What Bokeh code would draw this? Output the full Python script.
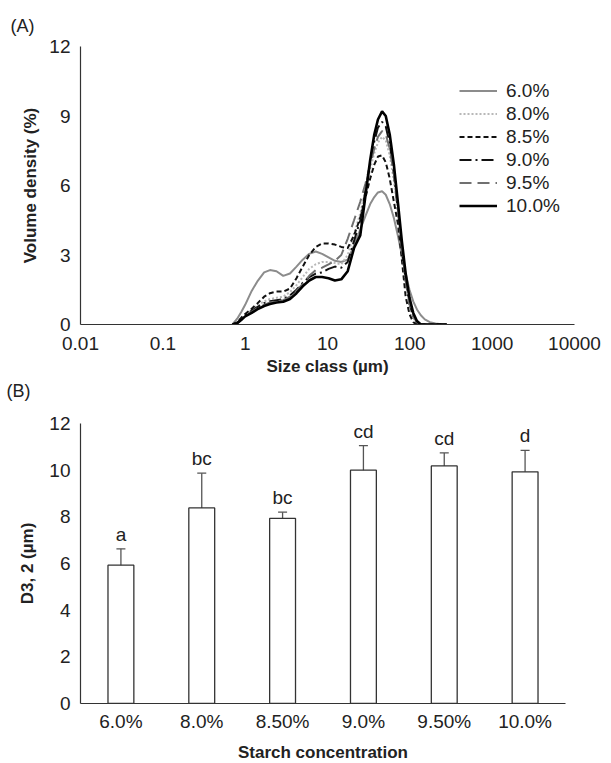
from bokeh.plotting import figure
from bokeh.layouts import column
from bokeh.models import (ColumnDataSource, FixedTicker, Legend, LegendItem, Whisker, TeeHead,
                          FactorRange, Title)
from bokeh.core.properties import value
from bokeh.embed import file_html
from bokeh.resources import INLINE

# ---------------- Panel A data ----------------
size_um = [0.7, 0.8, 0.9, 1.0, 1.2, 1.4, 1.7, 2.0, 2.4, 2.9, 3.5, 4.2, 5.0, 6.0, 7.2, 8.6, 10.3, 12.3,
           14.7, 17.6, 21, 25, 29, 33, 37, 41, 46, 51, 57, 64, 72, 80, 89, 99, 110, 122, 136, 152,
           175, 205, 240, 280]
vd_60 = [0, 0.25, 0.55, 0.85, 1.45, 1.85, 2.25, 2.35, 2.3, 2.1, 2.2, 2.5, 2.8, 3.05, 3.15, 3.05, 2.9,
         2.75, 2.7, 2.8, 3.4, 4.1, 4.7, 5.2, 5.5, 5.7, 5.75, 5.6, 5.2, 4.6, 3.8, 3.0, 2.2, 1.5, 1.0,
         0.65, 0.4, 0.22, 0.1, 0.04, 0.01, 0]
vd_80 = [0, 0.08, 0.25, 0.4, 0.65, 0.82, 1.0, 1.1, 1.15, 1.2, 1.4, 1.7, 2.05, 2.4, 2.6, 2.7, 2.7,
         2.65, 2.6, 3.0, 3.9, 4.8, 5.8, 6.7, 7.4, 7.85, 8.1, 7.95, 7.3, 6.2, 4.7, 3.2, 1.8, 0.85, 0.3,
         0.05, 0, 0, 0, 0, 0, 0]
vd_85 = [0, 0.1, 0.3, 0.45, 0.68, 0.9, 1.2, 1.35, 1.42, 1.42, 1.55, 2.0, 2.5, 3.0, 3.35, 3.5, 3.5,
         3.45, 3.35, 3.3, 3.85, 4.6, 5.5, 6.3, 6.9, 7.25, 7.3, 7.0, 6.3, 5.3, 4.3, 2.8, 1.2, 0.45,
         0.1, 0, 0, 0, 0, 0, 0, 0]
vd_90 = [0, 0.08, 0.25, 0.4, 0.6, 0.75, 0.92, 1.0, 1.05, 1.1, 1.25, 1.5, 1.8, 2.05, 2.2, 2.25, 2.4,
         2.5, 2.45, 2.7, 3.6, 4.5, 5.8, 7.0, 7.9, 8.5, 8.75, 8.55, 7.8, 6.5, 4.9, 3.3, 1.9, 0.9,
         0.35, 0.08, 0, 0, 0, 0, 0, 0]
vd_95 = [0, 0.05, 0.2, 0.35, 0.55, 0.7, 0.85, 0.95, 1.0, 1.05, 1.2, 1.45, 1.75, 2.1, 2.35, 2.45,
         2.6, 2.75, 3.0, 3.7, 4.5, 5.3, 6.1, 6.9, 7.6, 8.1, 8.35, 8.2, 7.6, 6.5, 4.9, 3.3, 1.9, 0.9,
         0.35, 0.1, 0, 0, 0, 0, 0, 0]
vd_100 = [0, 0.05, 0.2, 0.35, 0.5, 0.65, 0.8, 0.88, 0.95, 0.98, 1.1, 1.35, 1.65, 1.9, 2.05, 2.05,
          2.0, 1.9, 1.95, 2.3, 3.3, 3.85, 5.6, 7.1, 8.2, 8.85, 9.2, 9.0, 8.2, 6.9, 5.2, 3.6, 2.2,
          1.15, 0.5, 0.15, 0, 0, 0, 0, 0, 0]
series_names = ["6.0%", "8.0%", "8.5%", "9.0%", "9.5%", "10.0%"]
x_ticks_a = [0.01, 0.1, 1, 10, 100, 1000, 10000]
x_tick_labels_a = ["0.01", "0.1", "1", "10", "100", "1000", "10000"]
y_ticks_a = [0, 3, 6, 9, 12]

# ---------------- Panel B data ----------------
conc = ["6.0%", "8.0%", "8.50%", "9.0%", "9.50%", "10.0%"]
d32 = [5.93, 8.38, 7.93, 10.0, 10.18, 9.93]
d32_low = [5.18, 6.8, 7.64, 8.95, 9.66, 8.95]
d32_high = [6.63, 9.87, 8.2, 11.05, 10.74, 10.85]
letters = ["a", "bc", "bc", "cd", "cd", "d"]
y_ticks_b = [0, 2, 4, 6, 8, 10, 12]

FONT = "Liberation Sans"
TXT = "#222222"
FS_TICK = "19px"
FS_TITLE = "17px"


def style_axes(p):
    for ax in (p.xaxis[0], p.yaxis[0]):
        ax.axis_line_color = "#333333"
        ax.axis_line_width = 1.2
        ax.major_tick_line_color = None
        ax.minor_tick_line_color = None
        ax.major_label_text_font = FONT
        ax.major_label_text_font_size = FS_TICK
        ax.major_label_text_color = TXT
        ax.axis_label_text_font = FONT
        ax.axis_label_text_font_size = FS_TITLE
        ax.axis_label_text_font_style = "bold"
        ax.axis_label_text_color = TXT
    p.xgrid.visible = False
    p.ygrid.visible = False
    p.outline_line_color = None


def panel_title(text, offset, standoff):
    return Title(text=text, align="left", offset=offset, standoff=standoff, text_font=FONT,
                 text_font_size="18px", text_font_style="normal", text_color=TXT)


# ---------------- Figure A ----------------
pa = figure(frame_width=494, frame_height=278, x_axis_type="log", x_range=(0.01, 10000),
            y_range=(0, 12), output_backend="svg", toolbar_location=None, min_border_left=80,
            min_border_right=27, min_border_top=46, min_border_bottom=52)
style_axes(pa)
pa.add_layout(panel_title("(A)", -70, 22), "above")
pa.xaxis.ticker = FixedTicker(ticks=x_ticks_a)
pa.xaxis.major_label_overrides = {t: l for t, l in zip(x_ticks_a, x_tick_labels_a)}
pa.yaxis.ticker = FixedTicker(ticks=y_ticks_a)
pa.xaxis.axis_label = "Size class (µm)"
pa.yaxis.axis_label = "Volume density (%)"
pa.xaxis.major_label_standoff = 6
pa.yaxis.major_label_standoff = 4
pa.xaxis.axis_label_standoff = 4
pa.yaxis.axis_label_standoff = 6
# panel label of the second chart, placed under the first chart's axis title
pa.add_layout(panel_title("(B)", -74, 1), "below")

styles = [
    dict(line_color="#8c8c8c", line_width=2, line_dash="solid"),
    dict(line_color="#b8b8b8", line_width=2, line_dash="2 2"),
    dict(line_color="#111111", line_width=2, line_dash="5 3"),
    dict(line_color="#111111", line_width=2, line_dash="12 4 2 4"),
    dict(line_color="#707070", line_width=2, line_dash="12 6"),
    dict(line_color="#000000", line_width=2.6, line_dash="solid"),
]
all_vals = [vd_60, vd_80, vd_85, vd_90, vd_95, vd_100]
items = []
for name, vals, st in zip(series_names, all_vals, styles):
    r = pa.line(size_um, vals, **st)
    items.append(LegendItem(label=name, renderers=[r]))

leg = Legend(items=items, location=(375, 103), glyph_width=38, glyph_height=23,
             label_height=23, spacing=0, padding=4, label_standoff=9,
             label_text_font=FONT, label_text_font_size=FS_TICK, label_text_color=TXT,
             border_line_alpha=0, background_fill_alpha=0)
pa.add_layout(leg)

# ---------------- Figure B ----------------
pb = figure(frame_width=485, frame_height=280, x_range=FactorRange(*conc), y_range=(0, 12),
            output_backend="svg", toolbar_location=None, min_border_left=71,
            min_border_right=40, min_border_top=22, min_border_bottom=52)
style_axes(pb)
pb.yaxis.ticker = FixedTicker(ticks=y_ticks_b)
pb.xaxis.axis_label = "Starch concentration"
pb.yaxis.axis_label = "D3, 2 (µm)"
pb.xaxis.major_label_standoff = 1
pb.yaxis.major_label_standoff = 4
pb.xaxis.axis_label_standoff = 8
pb.yaxis.axis_label_standoff = 9

src = ColumnDataSource(dict(conc=conc, d32=d32, low=d32_low, high=d32_high, letters=letters))
pb.vbar(x="conc", top="d32", width=0.32, source=src, fill_color="white",
        line_color="#333333", line_width=1.3)
wh = Whisker(base="conc", upper="high", lower="low", source=src, line_color="#555555",
             line_width=1.3,
             upper_head=TeeHead(size=9, line_color="#555555", line_width=1.3),
             lower_head=TeeHead(size=9, line_color="#555555", line_width=1.3))
pb.add_layout(wh)
pb.text(x="conc", y="high", text="letters", source=src, text_align="center",
        text_baseline="bottom", y_offset=-4, text_font=value(FONT), text_font_size=FS_TICK,
        text_color=TXT)

layout = column(pa, pb, spacing=0)
open("out.html", "w").write(file_html(layout, INLINE))
